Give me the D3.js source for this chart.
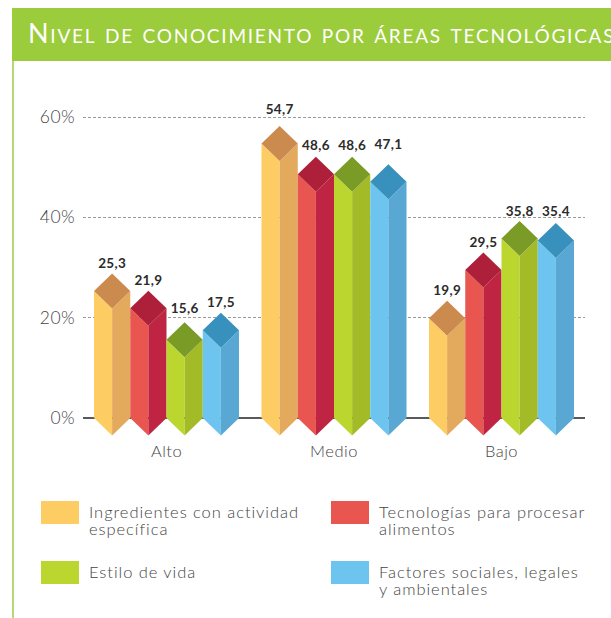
<!DOCTYPE html>
<html><head><meta charset="utf-8">
<script src="https://cdn.jsdelivr.net/npm/d3@7/dist/d3.min.js"></script>
<style>
html,body{margin:0;padding:0;background:#fff;overflow:hidden}
svg{display:block}
text{font-family:Lato,Inter,sans-serif}
</style></head><body>
<svg id="c" width="611" height="618"></svg>
<script>
const categories = ["Alto","Medio","Bajo"];
const seriesNames = ["Ingredientes con actividad específica","Tecnologías para procesar alimentos","Estilo de vida","Factores sociales, legales y ambientales"];
const ingredientes = [25.3,54.7,19.9];
const tecnologias = [21.9,48.6,29.5];
const estilo = [15.6,48.6,35.8];
const factores = [17.5,47.1,35.4];
const tickValues = [0,20,40,60];
const titleText = "Nivel de conocimiento por áreas tecnológicas";
const legendLines = [["Ingredientes con actividad","específica"],["Tecnologías para procesar","alimentos"],["Estilo de vida"],["Factores sociales, legales","y ambientales"]];

const seriesValues = [ingredientes,tecnologias,estilo,factores];
const frontColors = ["#fdcd64","#e8564f","#bcd630","#6dc5ef"];
const sideColors = ["#e3a95d","#bf2542","#a4bb28","#59a8d3"];
const topColors = ["#cb8b4e","#ae1f3a","#7a9b26","#3890bd"];
// extra lift of each value label above the bar's top corner, per series / category
const labelLift = [[6,12,6],[6,7,6],[9,7,5],[6,15,7]];

const svg = d3.select("#c");
const y = d3.scaleLinear().domain([0,60]).range([418,117]);
const x0 = d3.scaleBand().domain(categories).range([82.75,585.25]).paddingInner(0.1343).paddingOuter(0.0672);
const x1 = d3.scaleBand().domain(d3.range(4)).range([0,x0.bandwidth()]);
const halfH = 17.5;

// frame
svg.append("rect").attr("x",12).attr("y",61).attr("width",2).attr("height",557).attr("fill","#b5d975");
svg.append("rect").attr("x",12).attr("y",8).attr("width",599).attr("height",53).attr("fill","#9bcc3c");
svg.append("text").attr("x",28).attr("y",43).attr("fill","#fff")
  .style("font-variant","small-caps").style("font-size","27px").style("font-weight",400).style("letter-spacing","1.75px").text(titleText);

// grid
const gridVals = tickValues.filter(d=>d>0);
svg.append("g").selectAll("line").data(gridVals).join("line")
  .attr("x1",83).attr("x2",585).attr("y1",d=>Math.floor(y(d))+.5).attr("y2",d=>Math.floor(y(d))+.5)
  .attr("stroke","#9a9a9a").attr("stroke-width",1).attr("stroke-dasharray","3 2");
svg.append("line").attr("x1",83).attr("x2",585).attr("y1",y(0)).attr("y2",y(0)).attr("stroke","#222").attr("stroke-width",1.3);

// axis labels
const axis = d3.axisLeft(y).tickValues(tickValues).tickFormat(d=>d+"%").tickSize(0).tickPadding(0);
const ag = svg.append("g").attr("transform","translate(75,0)").call(axis);
ag.select(".domain").remove();
ag.selectAll("text").attr("fill","#444").style("font-size","17.5px").style("font-weight",300).style("letter-spacing","0.4px");

const xAxis = d3.axisBottom(x0).tickSize(0).tickPadding(0);
const xg = svg.append("g").attr("transform","translate(0,445)").call(xAxis);
xg.select(".domain").remove();
xg.selectAll("text").attr("fill","#444").style("font-size","16.5px").style("font-weight",300).style("letter-spacing","0.5px");

// bars
const line = d3.line();
categories.forEach((c,ci)=>{
  seriesValues.forEach((vals,si)=>{
    const v = vals[ci];
    const L = x0(c)+x1(si), W = x1.bandwidth(), M = L+W/2, R = L+W;
    const t = y(v), b = y(0);
    const g = svg.append("g");
    g.append("path").attr("d",line([[L,t],[M,t+halfH],[M,b+halfH],[L,b]])+"Z").attr("fill",frontColors[si]);
    g.append("path").attr("d",line([[M,t+halfH],[R,t],[R,b],[M,b+halfH]])+"Z").attr("fill",sideColors[si]);
    g.append("path").attr("d",line([[L,t],[M,t-halfH],[R,t],[M,t+halfH]])+"Z").attr("fill",topColors[si]);
    g.append("text").attr("x",M).attr("y",t-halfH-labelLift[si][ci]).attr("text-anchor","middle")
      .attr("fill","#2b2b2b").style("font-size","13.5px").style("font-weight",700).style("letter-spacing","0.3px").text(String(v).replace(".",","));
  });
});

// legend
const legX = d3.scalePoint().domain([0,1]).range([41,331]);
const legY = d3.scalePoint().domain([0,1]).range([501,561]);
legendLines.forEach((lines,i)=>{
  const lx = legX(i%2), ly = legY(Math.floor(i/2));
  svg.append("rect").attr("x",lx).attr("y",ly).attr("width",38).attr("height",23).attr("fill",frontColors[i]);
  lines.forEach((t,k)=>{
    svg.append("text").attr("x",lx+48).attr("y",ly+17+k*17).attr("fill","#444")
      .style("font-size","16.5px").style("font-weight",300).style("letter-spacing","0.95px").text(t);
  });
});
</script></body></html>
